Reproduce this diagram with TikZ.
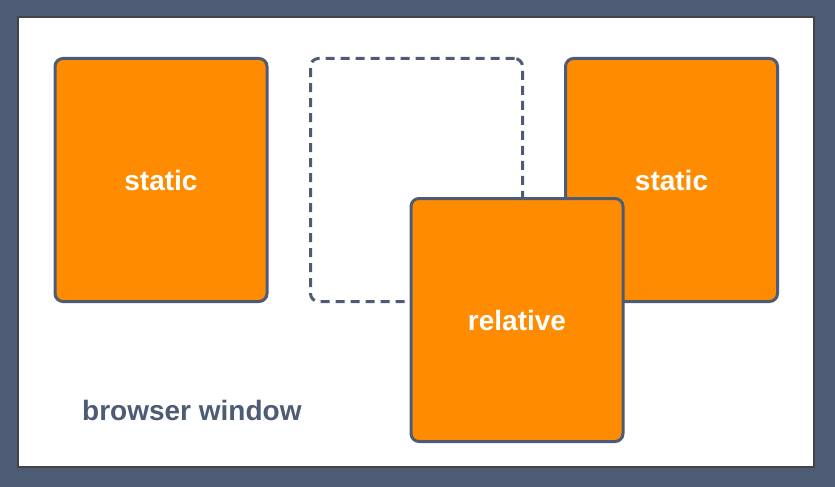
\documentclass[tikz,border=0pt]{standalone}
\usepackage{fontspec}
\setmainfont{Liberation Sans}
\definecolor{frame}{HTML}{4D5B75}
\definecolor{boxorange}{HTML}{FF8C00}
\definecolor{edgegray}{HTML}{444444}
\begin{document}
\begin{tikzpicture}[x=1pt,y=-1pt,
  box/.style={draw=frame,line width=3pt,rounded corners=8pt,fill=boxorange,minimum width=212pt,minimum height=243pt,inner sep=0pt,text=white,font=\fontsize{28}{32}\selectfont\bfseries},
  ghost/.style={draw=frame,line width=3pt,rounded corners=8pt,dash pattern=on 9pt off 6pt,minimum width=212pt,minimum height=243pt,inner sep=0pt},
  label/.style={text=frame,font=\fontsize{28}{32}\selectfont\bfseries,inner sep=0pt,anchor=west}]
\useasboundingbox (0,0) rectangle (835,487);
\fill[frame] (0,0) rectangle (835,487);
\draw[edgegray,fill=white,line width=1.5pt] (18,17) rectangle (814,467);
\node[box] (s1) at (161,180) {static};
\node[ghost] (g) at (416.5,180) {};
\node[box] (s2) at (671.5,180) {static};
\node[box] (r) at (517,320) {relative};
\node[label] (bw) at (82,410) {browser window};
\end{tikzpicture}
\end{document}
